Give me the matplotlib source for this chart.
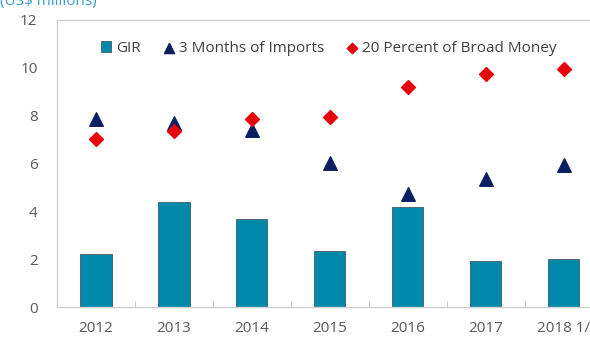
import numpy as np
import matplotlib.pyplot as plt

plt.rcParams['font.family'] = ['Open Sans', 'DejaVu Sans']

years = ['2012', '2013', '2014', '2015', '2016', '2017', '2018 1/']
gir = [2.2, 4.38, 3.69, 2.36, 4.2, 1.91, 2.0]
imports_3m = [7.85, 7.7, 7.38, 6.0, 4.72, 5.37, 5.93]
broad_money_20 = [7.02, 7.34, 7.87, 7.96, 9.2, 9.75, 9.96]

fig = plt.figure(figsize=(5.9, 3.37), dpi=100)
ax = fig.add_axes([0.0966, 0.089, 0.925, 0.8517])

x = np.arange(len(years))
bars = ax.bar(x, gir, width=0.4, color='#0089ab', edgecolor='#3d5a66',
              linewidth=0.6, label='GIR', zorder=2)
tri = ax.scatter(x, imports_3m, marker='^', s=95, color='#0b1f63', zorder=3,
                 label='3 Months of Imports')
dia = ax.scatter(x, broad_money_20, marker='D', s=50, color='#e8000b', zorder=3,
                 label='20 Percent of Broad Money')

ax.set_xlim(-0.5, len(years) - 0.5)
ax.set_ylim(0, 12)
ax.set_yticks(np.arange(0, 13, 2))
ax.set_xticks(x)
ax.set_xticklabels(years)
ax.set_xticks(np.arange(0.5, len(years) - 0.5, 1), minor=True)
ax.tick_params(axis='x', which='major', length=0, pad=10, labelsize=11,
               colors='#595959')
ax.tick_params(axis='x', which='minor', direction='in', length=4,
               color='#bfbfbf')
ax.tick_params(axis='y', length=0, pad=14, labelsize=11, colors='#595959')

for side in ['top', 'left', 'bottom', 'right']:
    ax.spines[side].set_color('#d0d0d0')
    ax.spines[side].set_linewidth(1.0)

ax.legend(handles=[bars, tri, dia], loc='upper left',
          bbox_to_anchor=(0.055, 0.975), ncol=3, frameon=False,
          fontsize=11, handlelength=0.7, handletextpad=0.3, columnspacing=1.5,
          labelcolor='#404040', scatterpoints=1, markerscale=0.75)

fig.text(0.0, 0.995, '(US$ millions)', color='#3a9fd0', fontsize=11,
         ha='left', va='center')

fig.savefig('out.png', dpi=100)
